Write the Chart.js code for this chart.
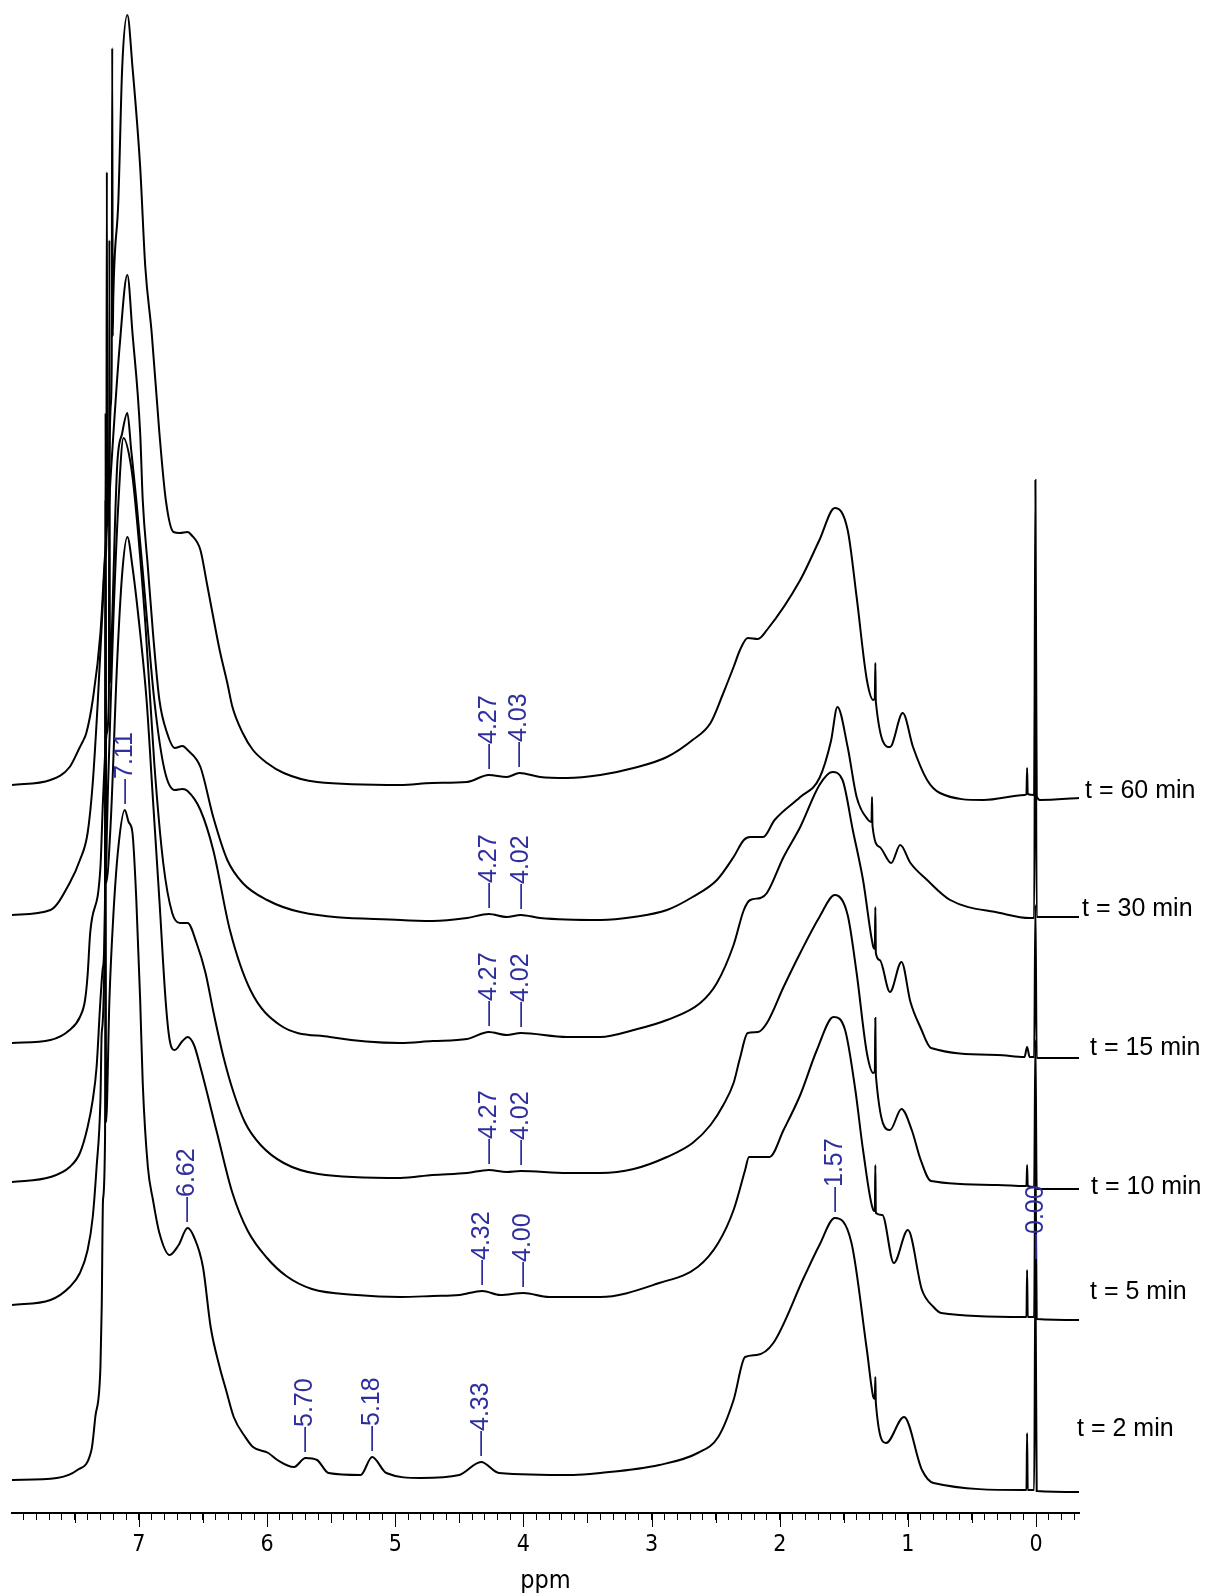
<!DOCTYPE html>
<html>
<head>
<meta charset="utf-8">
<title>1H NMR stack</title>
<script src="https://cdn.jsdelivr.net/npm/chart.js@4.4.1/dist/chart.umd.min.js"></script>
<style>
    html, body { margin: 0; padding: 0; background: #ffffff; }
    #wrap { position: relative; width: 1208px; height: 1596px; }
</style>
</head>
<body>
<div id="wrap"><canvas id="nmrStack"></canvas></div>
<script>
// stacked spectra, top to bottom; each pair is [ppm, height above that trace's own baseline]
const traceNames = ['t = 60 min', 't = 30 min', 't = 15 min', 't = 10 min', 't = 5 min', 't = 2 min'];
const traceOffsets = [727, 597, 468, 330, 210, 36];

const spec60 = [[7.99,1],[7.69,6],[7.54,19],[7.46,39],[7.44,44],[7.41,53],[7.36,86],[7.30,153],[7.27,219],[7.24,286],[7.22,380],[7.212,420],[7.208,738],[7.204,450],[7.20,486],[7.16,586],[7.13,719],[7.09,771],[7.05,719],[6.99,619],[6.95,519],[6.90,453],[6.84,353],[6.79,286],[6.73,254],[6.68,253],[6.62,254],[6.59,251],[6.52,236],[6.47,203],[6.42,169],[6.37,136],[6.31,103],[6.27,79],[6.19,53],[6.11,36],[6.00,23],[5.87,13],[5.61,4],[4.96,1],[4.71,3],[4.44,4],[4.27,11],[4.13,9],[4.03,13],[3.87,9],[3.66,8],[3.40,11],[3.14,18],[2.88,29],[2.68,46],[2.54,63],[2.44,93],[2.36,119],[2.31,136],[2.25,148],[2.17,147],[2.10,156],[1.84,206],[1.69,246],[1.57,278],[1.47,256],[1.40,189],[1.32,106],[1.27,86],[1.258,88],[1.254,123],[1.250,84],[1.14,39],[1.04,73],[0.96,39],[0.85,6],[0.75,-7],[0.41,-14],[0.09,-9],[0.075,-8],[0.07,18],[0.065,-8],[0.015,-9],[0.005,306],[-0.005,-10],[-0.03,-14],[-0.34,-12]];

const spec30 = [[7.99,1],[7.69,6],[7.54,33],[7.46,56],[7.40,83],[7.36,133],[7.32,216],[7.28,316],[7.26,360],[7.254,372],[7.250,744],[7.246,390],[7.22,440],[7.20,480],[7.15,570],[7.09,641],[7.05,583],[6.99,483],[6.97,416],[6.93,349],[6.89,283],[6.84,216],[6.78,183],[6.72,168],[6.66,170],[6.62,166],[6.52,149],[6.42,99],[6.31,56],[6.19,33],[6.00,16],[5.74,4],[4.96,-4],[4.71,-5],[4.44,-2],[4.27,2],[4.13,-1],[4.02,1],[3.87,-2],[3.40,-4],[3.14,-1],[2.88,6],[2.68,19],[2.49,36],[2.36,59],[2.28,76],[2.23,79],[2.13,79],[2.04,96],[1.84,119],[1.69,138],[1.60,175],[1.55,209],[1.47,169],[1.40,119],[1.31,96],[1.284,94],[1.280,119],[1.276,90],[1.22,69],[1.13,53],[1.06,71],[0.98,53],[0.85,36],[0.67,16],[0.28,3],[0.05,-2],[0.015,-2],[0.005,308],[-0.005,-1],[-0.34,-1]];

const spec15 = [[7.99,2],[7.69,5],[7.54,15],[7.46,28],[7.42,45],[7.40,70],[7.38,112],[7.30,178],[7.28,245],[7.25,312],[7.234,350],[7.230,805],[7.226,362],[7.22,378],[7.17,578],[7.13,612],[7.09,632],[7.06,595],[7.02,545],[6.95,445],[6.88,345],[6.80,275],[6.72,255],[6.66,256],[6.62,254],[6.52,235],[6.42,195],[6.29,115],[6.13,55],[5.90,20],[5.51,8],[4.96,2],[4.71,4],[4.44,6],[4.27,13],[4.13,10],[4.02,12],[3.66,8],[3.40,8],[3.14,15],[2.88,25],[2.62,42],[2.49,62],[2.36,100],[2.28,135],[2.23,145],[2.15,147],[2.10,152],[1.97,188],[1.84,218],[1.69,260],[1.59,273],[1.51,265],[1.43,215],[1.35,165],[1.27,98],[1.258,96],[1.254,138],[1.250,92],[1.22,85],[1.14,53],[1.05,83],[0.98,43],[0.90,17],[0.82,-3],[0.30,-10],[0.09,-12],[0.07,-2],[0.05,-12],[0.015,-12],[0.005,140],[-0.005,-13],[-0.34,-13]];

const spec10 = [[7.99,1],[7.69,6],[7.54,16],[7.46,30],[7.40,56],[7.36,83],[7.33,116],[7.30,183],[7.28,216],[7.264,290],[7.260,770],[7.256,310],[7.25,350],[7.24,400],[7.20,560],[7.16,680],[7.12,745],[7.06,716],[7.03,683],[6.95,560],[6.88,420],[6.81,320],[6.74,270],[6.68,260],[6.62,260],[6.55,240],[6.48,210],[6.42,172],[6.34,126],[6.26,90],[6.17,60],[6.05,38],[5.87,20],[5.60,9],[4.96,5],[4.71,8],[4.44,10],[4.27,13],[4.13,11],[4.02,12],[3.66,10],[3.40,10],[3.14,14],[2.88,26],[2.68,40],[2.54,58],[2.44,78],[2.36,100],[2.31,125],[2.25,150],[2.17,151],[2.10,160],[1.97,196],[1.84,230],[1.69,266],[1.57,288],[1.47,268],[1.40,210],[1.32,130],[1.27,110],[1.258,112],[1.254,165],[1.250,108],[1.14,53],[1.05,74],[0.97,53],[0.90,23],[0.82,2],[0.30,-2],[0.09,-3],[0.075,-3],[0.07,18],[0.065,-3],[0.015,-4],[0.005,143],[-0.005,-6],[-0.34,-6]];

const spec5 = [[7.99,-2],[7.69,3],[7.54,16],[7.46,30],[7.40,53],[7.36,86],[7.33,136],[7.30,203],[7.29,270],[7.264,400],[7.260,803],[7.256,420],[7.22,480],[7.17,640],[7.13,730],[7.09,766],[7.05,736],[6.99,670],[6.94,603],[6.89,503],[6.84,403],[6.79,300],[6.76,263],[6.72,253],[6.66,262],[6.62,266],[6.57,258],[6.52,236],[6.39,170],[6.27,110],[6.15,72],[6.00,45],[5.85,27],[5.65,14],[5.30,8],[4.96,6],[4.71,7],[4.50,8],[4.32,12],[4.18,8],[4.00,10],[3.80,6],[3.40,6],[2.94,20],[2.64,36],[2.48,60],[2.36,93],[2.27,133],[2.24,146],[2.08,146],[1.97,173],[1.84,208],[1.71,253],[1.58,286],[1.49,273],[1.41,213],[1.35,153],[1.27,93],[1.258,92],[1.254,138],[1.250,90],[1.20,88],[1.11,40],[1.00,73],[0.89,13],[0.80,-4],[0.74,-10],[0.09,-14],[0.075,-14],[0.07,33],[0.065,-14],[0.015,-14],[0.005,153],[-0.005,-16],[-0.34,-17]];

const spec2 = [[7.99,-3],[7.64,-1],[7.48,7],[7.37,27],[7.34,60],[7.30,110],[7.29,170],[7.28,277],[7.264,340],[7.260,720],[7.256,355],[7.23,477],[7.20,560],[7.16,630],[7.11,667],[7.08,655],[7.05,644],[7.02,577],[6.99,477],[6.97,394],[6.93,310],[6.89,277],[6.84,244],[6.76,222],[6.69,232],[6.62,249],[6.57,240],[6.50,210],[6.44,150],[6.37,110],[6.32,87],[6.26,60],[6.17,40],[6.11,30],[5.99,24],[5.92,17],[5.79,10],[5.70,19],[5.61,17],[5.52,4],[5.27,2],[5.18,20],[5.07,4],[4.80,-1],[4.50,2],[4.33,15],[4.19,4],[3.61,2],[3.40,4],[2.94,12],[2.64,24],[2.48,40],[2.36,77],[2.27,120],[2.18,122],[2.05,134],[1.81,200],[1.69,232],[1.57,259],[1.44,234],[1.32,127],[1.27,80],[1.258,78],[1.254,100],[1.250,74],[1.17,34],[1.03,60],[0.89,7],[0.80,-6],[0.09,-13],[0.075,-13],[0.07,44],[0.065,-13],[0.015,-13],[0.005,212],[-0.005,-14],[-0.34,-15]];

const spectra = [spec60, spec30, spec15, spec10, spec5, spec2];

// picked peaks: which trace, and the shift written on it
const peakTrace = [0, 0, 1, 1, 2, 2, 3, 3, 4, 4, 5, 5, 5, 5, 5, 5, 5];
const peakPpm = [4.27, 4.03, 4.27, 4.02, 4.27, 4.02, 4.27, 4.02, 4.32, 4.00, 7.11, 6.62, 5.70, 5.18, 4.33, 1.57, 0.00];

// where the time labels sit (ppm, level on the stacked scale)
const nameAnchorPpm = [-0.382, -0.359, -0.421, -0.429, -0.421, -0.32];
const nameAnchorLevel = [722, 604, 465, 326, 221, 84];

const ppmMin = -0.335;
const ppmMax = 7.99;
const stackTop = 1513;

const axisFont = '"Liberation Sans Narrow", "DejaVu Sans Condensed", "Liberation Sans", sans-serif';
const labelFont = '"Liberation Sans", Arial, sans-serif';

function localTop(traceIndex, ppm) {
    let best = -Infinity;
    spectra[traceIndex].forEach(function (pt) {
        if (Math.abs(pt[0] - ppm) <= 0.025 && pt[1] > best) {
            best = pt[1];
        }
    });
    return best;
}

const axisMarks = {
    id: 'axisMarks',
    afterDraw: function (chart) {
        const xs = chart.scales.x;
        const ctx = chart.ctx;
        ctx.save();
        ctx.strokeStyle = '#000';
        ctx.lineWidth = 1;
        xs.ticks.forEach(function (tick) {
            const tenth = Math.round(tick.value * 10);
            let len = 0;
            if (tenth % 10 === 0) {
                len = 14;
            } else if (tenth % 5 === 0) {
                len = 10;
            }
            if (!len) {
                return;
            }
            const px = Math.round(xs.getPixelForValue(tick.value)) + 0.5;
            ctx.beginPath();
            ctx.moveTo(px, xs.top);
            ctx.lineTo(px, xs.top + len);
            ctx.stroke();
        });
        ctx.restore();
    }
};

const peakNotes = {
    id: 'peakNotes',
    afterDatasetsDraw: function (chart) {
        const ctx = chart.ctx;
        const xs = chart.scales.x;
        const ys = chart.scales.y;
        ctx.save();

        ctx.fillStyle = '#2e2e9e';
        ctx.font = '25px ' + labelFont;
        ctx.textAlign = 'left';
        ctx.textBaseline = 'middle';
        peakPpm.forEach(function (ppm, i) {
            const tr = peakTrace[i];
            const px = xs.getPixelForValue(ppm);
            const py = ys.getPixelForValue(traceOffsets[tr] + localTop(tr, ppm)) - 6;
            ctx.save();
            ctx.translate(px, py);
            ctx.rotate(-Math.PI / 2);
            ctx.fillText('\u2014' + ppm.toFixed(2), 0, 0);
            ctx.restore();
        });

        ctx.fillStyle = '#000';
        traceNames.forEach(function (name, i) {
            const px = xs.getPixelForValue(nameAnchorPpm[i]);
            const py = ys.getPixelForValue(nameAnchorLevel[i]);
            ctx.fillText(name, px, py);
        });

        ctx.restore();
    }
};

const datasets = spectra.map(function (spec, i) {
    return {
        label: traceNames[i],
        data: spec.map(function (pt) {
            return { x: pt[0], y: traceOffsets[i] + pt[1] };
        }),
        borderColor: '#000',
        borderWidth: 2,
        pointRadius: 0,
        fill: false,
        cubicInterpolationMode: 'monotone'
    };
});

new Chart(document.getElementById('nmrStack').getContext('2d'), {
    type: 'line',
    data: { datasets: datasets },
    options: {
        responsive: true,
        maintainAspectRatio: false,
        devicePixelRatio: 1,
        animation: false,
        events: [],
        layout: {
            padding: { left: 12, right: 129, top: 0, bottom: 0 }
        },
        plugins: {
            legend: { display: false },
            tooltip: { enabled: false }
        },
        scales: {
            x: {
                type: 'linear',
                position: 'bottom',
                reverse: true,
                min: ppmMin,
                max: ppmMax,
                afterFit: function (scale) {
                    scale.height = 83;
                },
                border: { display: true, color: '#000', width: 2 },
                grid: {
                    drawOnChartArea: false,
                    drawTicks: true,
                    tickLength: 7,
                    tickColor: '#000',
                    tickWidth: 1
                },
                ticks: {
                    stepSize: 0.1,
                    autoSkip: false,
                    includeBounds: false,
                    maxRotation: 0,
                    minRotation: 0,
                    padding: 11,
                    color: '#000',
                    font: { family: axisFont, size: 23 },
                    callback: function (value) {
                        return Math.abs(value - Math.round(value)) < 1e-6 ? String(Math.round(value)) : '';
                    }
                },
                title: {
                    display: true,
                    text: 'ppm',
                    color: '#000',
                    font: { family: axisFont, size: 25 },
                    padding: { top: 0, bottom: 0 }
                }
            },
            y: {
                display: false,
                min: 0,
                max: stackTop
            }
        }
    },
    plugins: [axisMarks, peakNotes]
});
</script>
</body>
</html>
